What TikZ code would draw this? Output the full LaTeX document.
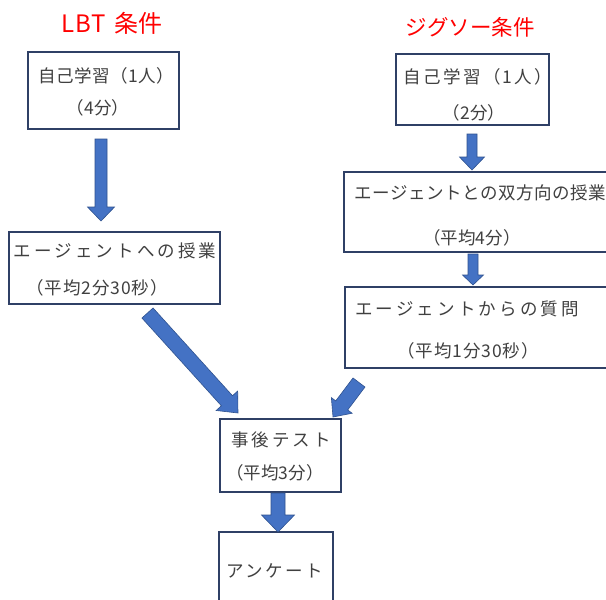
\documentclass[tikz,border=0pt]{standalone}
\usepackage{fontspec}
\setmainfont{Noto Sans CJK JP}
\usetikzlibrary{calc}
\definecolor{boxline}{HTML}{2F4066}
\definecolor{txtc}{HTML}{404040}
\definecolor{arrfill}{HTML}{4472C4}
\definecolor{arredge}{HTML}{2F528F}
\definecolor{ttlc}{HTML}{FF0000}
\newcommand\lsp[2]{{\addfontfeatures{LetterSpace=#1}#2}}
\newcommand\blockarrow[5]{%
  \coordinate (bah) at ($(#2)!#5pt!(#1)$);
  \filldraw[arrst] ($(#1)!#3pt!90:(#2)$) -- ($(bah)!#3pt!90:(#2)$) -- ($(bah)!#4pt!90:(#2)$) -- (#2)
    -- ($(bah)!#4pt!-90:(#2)$) -- ($(bah)!#3pt!-90:(#2)$) -- ($(#1)!#3pt!-90:(#2)$) -- cycle;}
\tikzset{
  boxst/.style={draw=boxline, line width=1.5pt, fill=white, rectangle, inner sep=0pt},
  txst/.style={text=txtc, font=\fontsize{17.5pt}{20pt}\selectfont, anchor=base, inner sep=0pt},
  ttlst/.style={text=ttlc, anchor=base, inner sep=0pt},
  arrst/.style={fill=arrfill, draw=arredge, line width=0.6pt, line join=miter}
}
\begin{document}
\begin{tikzpicture}[x=1pt, y=-1pt]
\clip (0,0) rectangle (606,600);
\fill[white] (0,0) rectangle (606,600);
% titles
\node[ttlst, font=\fontsize{24pt}{28pt}\selectfont] (t1) at (112,32) {\lsp{4}{LBT}\hspace{9pt}条件};
\node[ttlst, font=\fontsize{21.5pt}{25pt}\selectfont] (t2) at (470,35.5) {ジグソー条件};
% boxes
\node[boxst, minimum width=151pt, minimum height=77pt] (A) at (103.5,90.5) {};
\node[boxst, minimum width=153pt, minimum height=71pt] (B) at (472.5,89.5) {};
\node[boxst, minimum width=211pt, minimum height=72pt] (C) at (114.5,268) {};
\node[boxst, minimum width=268pt, minimum height=80pt] (D) at (478,212) {};
\node[boxst, minimum width=267pt, minimum height=81pt] (E) at (478.5,327.5) {};
\node[boxst, minimum width=121pt, minimum height=73pt] (F) at (280.5,455.5) {};
\node[boxst, minimum width=114pt, minimum height=80pt] (G) at (276,572) {};
% texts
\node[txst] (A1) at (106.5,82.5) {\lsp{3}{自己学習（1人）}};
\node[txst] (A2) at (98,114.5) {（4分）};
\node[txst] (B1) at (478,83.5) {\lsp{13}{自己学習（1人）}};
\node[txst] (B2) at (474,119.5) {（2分）};
\node[txst] (C1) at (115,257.5) {\lsp{18}{エージェントへの授業}};
\node[txst] (C2) at (97,294) {\lsp{5}{（平均2分30秒）}};
\node[txst] (D1) at (480,199) {\lsp{3}{エージェントとの双方向の授業}};
\node[txst] (D2) at (472,244) {（平均4分）};
\node[txst] (E1) at (467,315.5) {\lsp{18}{エージェントからの質問}};
\node[txst] (E2) at (468,357.5) {\lsp{5}{（平均1分30秒）}};
\node[txst] (F1) at (281,446.5) {\lsp{17}{事後テスト}};
\node[txst] (F2) at (275,479) {（平均3分）};
\node[txst] (G1) at (275,577.5) {\lsp{14}{アンケート}};
% arrow end points
\coordinate (a1s) at (101,139);   \coordinate (a1t) at (101,221);
\coordinate (a2s) at (472,134);   \coordinate (a2t) at (472,170);
\coordinate (a3s) at (473,254);   \coordinate (a3t) at (473,285);
\coordinate (a4s) at (147.5,313); \coordinate (a4t) at (238,413);
\coordinate (a5s) at (359,382.5); \coordinate (a5t) at (333,417);
\coordinate (a6s) at (278,493);   \coordinate (a6t) at (278,532);
\blockarrow{a1s}{a1t}{6}{13.5}{14}
\blockarrow{a2s}{a2t}{5}{12.5}{13}
\blockarrow{a3s}{a3t}{5}{10.5}{10}
\blockarrow{a4s}{a4t}{7.5}{14.5}{16.5}
\blockarrow{a5s}{a5t}{7.5}{13}{14.5}
\blockarrow{a6s}{a6t}{7}{16.5}{17}
\end{tikzpicture}
\end{document}
